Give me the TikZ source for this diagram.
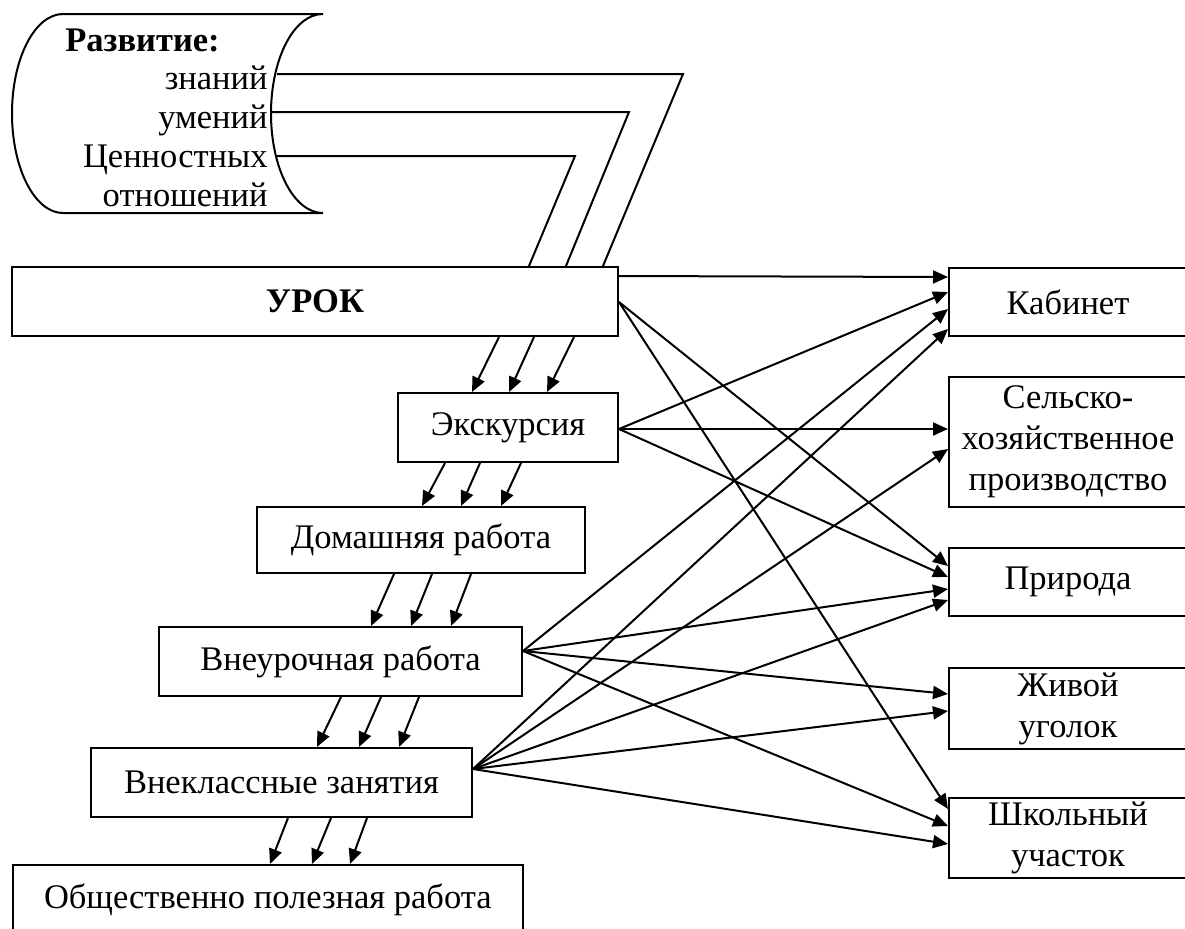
\documentclass[tikz,border=0pt]{standalone}
\usepackage{fontspec}
\setmainfont{Liberation Serif}
\usetikzlibrary{calc,positioning,arrows.meta}
\tikzset{
    >={Triangle[length=7.5pt,width=6.5pt]},
    blok/.style={
      rectangle,
      draw=black, line width=1pt,
      fill=white,
      inner sep=0pt,
      align=center,
      font=\fontsize{17.25}{20.5}\selectfont},
    pravyi/.style={blok, minimum width=119pt},
    svyaz/.style={draw, line width=1pt, ->},
    nit/.style={draw, line width=1pt},
}

\begin{document}
\begin{tikzpicture}[x=0.5pt,y=-0.5pt]
  \useasboundingbox (0,0) rectangle (1185,928);
  % svitok "Razvitie"
  \draw[line width=1pt] (63,14) -- (323,14)
     .. controls (294,14) and (271,58.5) .. (271,113.5)
     .. controls (271,168.5) and (294,213) .. (323,213)
     -- (63,213)
     .. controls (34.8,213) and (12,168.5) .. (12,113.5)
     .. controls (12,58.5) and (34.8,14) .. (63,14) -- cycle;
  \node[anchor=west, font=\fontsize{17.25}{20}\selectfont\bfseries, inner sep=0pt] (razv) at (65,40) {Развитие:};
  \node[anchor=east, align=right, font=\fontsize{17.25}{19.5}\selectfont, inner sep=0pt] (spisok) at (268,136)
       {знаний\\умений\\Ценностных\\отношений};

  % formy
  \node[blok, minimum width=303pt, minimum height=34.5pt, font=\fontsize{17.25}{20}\selectfont\bfseries] (urok) at (315,301.5) {УРОК};
  \node[blok, minimum width=110pt, minimum height=34.5pt] (ekskurs) at (508,427.5) {Экскурсия};
  \node[blok, minimum width=164pt, minimum height=33pt] (doma) at (421,540) {Домашняя работа};
  \node[blok, minimum width=181.5pt, minimum height=34.5pt] (vneur) at (340.5,661.5) {Внеурочная работа};
  \node[blok, minimum width=190.5pt, minimum height=34.5pt] (vnekl) at (281.5,782.5) {Внеклассные занятия};
  \node[blok, anchor=west, inner xsep=15.5pt, minimum height=35pt] (obsh) at (12,900) {Общественно полезная работа};

  % mesta
  \node[pravyi, minimum height=34pt] (kab) at (1068,302) {Кабинет};
  \node[pravyi, minimum height=65pt] (selsk) at (1068,442) {Сельско-\\хозяйственное\\производство};
  \node[pravyi, minimum height=34pt] (priroda) at (1068,582) {Природа};
  \node[pravyi, minimum height=40.5pt] (zhivoi) at (1068,708.5) {Живой\\уголок};
  \node[pravyi, minimum height=40pt] (shkola) at (1068,838) {Школьный\\участок};

  % niti ot svitka k uroku
  \coordinate (z1) at (277,74);
  \coordinate (z2) at (272,112);
  \coordinate (z3) at (277,156);
  \coordinate (p1) at (683,74);
  \coordinate (p2) at (629,112);
  \coordinate (p3) at (575,156);
  \draw[nit] (z1) -- (p1) -- ($(urok.north east)+(-16,0)$);
  \draw[nit] (z2) -- (p2) -- ($(urok.north east)+(-53,0)$);
  \draw[nit] (z3) -- (p3) -- ($(urok.north east)+(-90,0)$);

  % perehody vniz
  \draw[svyaz] ($(urok.south west)+(488,0)$) -- ($(ekskurs.north west)+(75,0)$);
  \draw[svyaz] ($(urok.south west)+(523,0)$) -- ($(ekskurs.north west)+(112,0)$);
  \draw[svyaz] ($(urok.south west)+(563,0)$) -- ($(ekskurs.north west)+(150,0)$);
  \draw[svyaz] ($(ekskurs.south west)+(48,0)$) -- ($(doma.north west)+(166,0)$);
  \draw[svyaz] ($(ekskurs.south west)+(83,0)$) -- ($(doma.north west)+(205,0)$);
  \draw[svyaz] ($(ekskurs.south west)+(124,0)$) -- ($(doma.north west)+(245,0)$);
  \draw[svyaz] ($(doma.south west)+(138,0)$) -- ($(vneur.north west)+(213,0)$);
  \draw[svyaz] ($(doma.south west)+(176,0)$) -- ($(vneur.north west)+(253,0)$);
  \draw[svyaz] ($(doma.south west)+(215,0)$) -- ($(vneur.north west)+(293,0)$);
  \draw[svyaz] ($(vneur.south west)+(183,0)$) -- ($(vnekl.north west)+(227,0)$);
  \draw[svyaz] ($(vneur.south west)+(223,0)$) -- ($(vnekl.north west)+(269,0)$);
  \draw[svyaz] ($(vneur.south west)+(261,0)$) -- ($(vnekl.north west)+(309,0)$);
  \draw[svyaz] ($(vnekl.south west)+(198,0)$) -- ($(obsh.north west)+(258,0)$);
  \draw[svyaz] ($(vnekl.south west)+(241,0)$) -- ($(obsh.north west)+(300,0)$);
  \draw[svyaz] ($(vnekl.south west)+(277,0)$) -- ($(obsh.north west)+(338,0)$);

  % svyazi s mestami
  \coordinate (uA) at ($(urok.north east)+(0,10)$);
  \coordinate (uB) at ($(urok.north east)+(0,36)$);
  \coordinate (eA) at ($(ekskurs.north east)+(0,37)$);
  \coordinate (vA) at ($(vneur.north east)+(0,25)$);
  \coordinate (kA) at ($(vnekl.north east)+(0,22)$);
  \draw[svyaz] (uA) -- ($(kab.north west)+(0,10)$);
  \draw[svyaz] (uB) -- ($(priroda.north west)+(0,19)$);
  \draw[svyaz] (uB) -- ($(shkola.north west)+(0,12)$);
  \draw[svyaz] (eA) -- ($(kab.north west)+(0,25)$);
  \draw[svyaz] (eA) -- ($(selsk.north west)+(0,53)$);
  \draw[svyaz] (eA) -- ($(priroda.north west)+(0,30)$);
  \draw[svyaz] (vA) -- ($(kab.north west)+(0,42)$);
  \draw[svyaz] (vA) -- ($(priroda.north west)+(0,42)$);
  \draw[svyaz] (vA) -- ($(zhivoi.north west)+(0,27)$);
  \draw[svyaz] (vA) -- ($(shkola.north west)+(0,29)$);
  \draw[svyaz] (kA) -- ($(kab.north west)+(0,62)$);
  \draw[svyaz] (kA) -- ($(selsk.north west)+(0,73)$);
  \draw[svyaz] (kA) -- ($(priroda.north west)+(0,53)$);
  \draw[svyaz] (kA) -- ($(zhivoi.north west)+(0,44)$);
  \draw[svyaz] (kA) -- ($(shkola.north west)+(0,47)$);
\end{tikzpicture}
\end{document}
